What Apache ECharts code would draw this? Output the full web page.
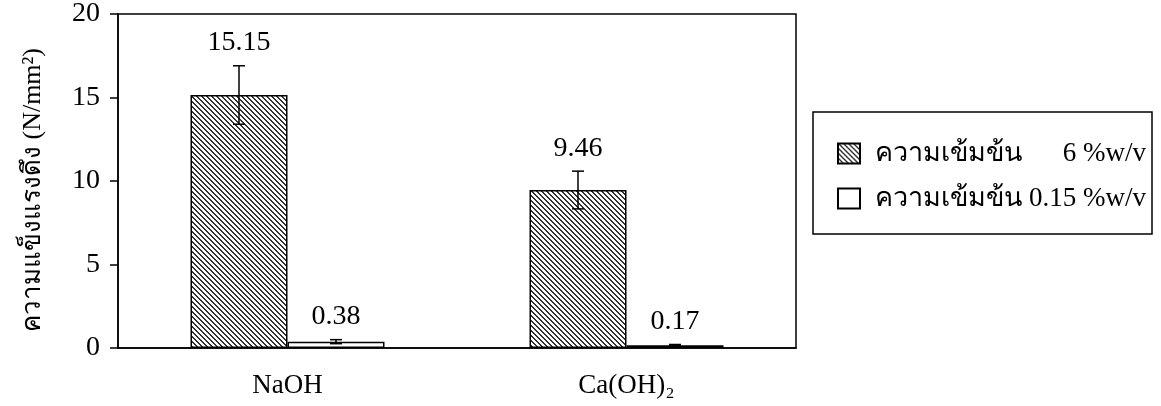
<!DOCTYPE html>
<html>
<head>
<meta charset="utf-8">
<script src="https://cdn.jsdelivr.net/npm/echarts@6/dist/echarts.min.js"></script>
<style>
  html, body { margin: 0; padding: 0; background: #fff; }
  #chart { width: 1161px; height: 406px; }
</style>
</head>
<body>
<div id="chart"></div>
<script>
// data
const categories = ['NaOH', 'Ca(OH)₂'];
const seriesNames = ['6 %w/v', '0.15 %w/v'];
const values6 = [15.15, 9.46];
const values015 = [0.38, 0.17];
const err6 = [1.75, 1.13];
const err015 = [0.12, 0.04];
const yMin = 0, yMax = 20, yStep = 5;

const font = 'Liberation Serif, Noto Sans, serif';
const barW = 97;

// diagonal hatch "\\\\"
function hatch() {
  const n = 5;
  const c = document.createElement('canvas');
  c.width = n; c.height = n;
  const g = c.getContext('2d');
  g.fillStyle = '#fff';
  g.fillRect(0, 0, n, n);
  g.fillStyle = '#333';
  for (let i = 0; i < n; i++) {
    g.fillRect(i, i, 1, 1);
    g.fillRect((i + 1) % n, i, 1, 1);
  }
  return c;
}
const hatchFill = { image: hatch(), repeat: 'repeat' };

function errData(vals, errs) {
  return vals.map((v, i) => [i, v, errs[i]]);
}

function errRender(offset) {
  return function (params, api) {
    const idx = api.value(0), v = api.value(1), e = api.value(2);
    const x = api.coord([idx, 0])[0] + offset;
    const yT = api.coord([idx, v + e])[1];
    const yB = api.coord([idx, v - e])[1];
    const st = { stroke: '#000', lineWidth: 1.5 };
    return {
      type: 'group',
      children: [
        { type: 'line', shape: { x1: x, y1: yT, x2: x, y2: yB }, style: st },
        { type: 'line', shape: { x1: x - 6, y1: yT, x2: x + 6, y2: yT }, style: st },
        { type: 'line', shape: { x1: x - 6, y1: yB, x2: x + 6, y2: yB }, style: st },
        { type: 'text', x: x, y: yT - 9,
          style: { text: v.toFixed(2), fill: '#000', font: '28px ' + font,
                   align: 'center', verticalAlign: 'bottom' } }
      ]
    };
  };
}

const chart = echarts.init(document.getElementById('chart'));
const option = {
  animation: false,
  grid: { left: 118, right: 365, top: 14, bottom: 58, show: true,
          borderColor: '#000', borderWidth: 1.5, backgroundColor: 'transparent' },
  legend: {
    data: seriesNames,
    orient: 'vertical',
    left: 813, top: 112,
    borderColor: '#000', borderWidth: 1.5,
    padding: [28, 6, 22, 24],
    itemGap: 18,
    itemWidth: 22, itemHeight: 20,
    icon: 'rect',
    formatter: (n) => '{a|ความเข้มข้น}{b|' + n + '}',
    textStyle: {
      color: '#000', fontSize: 27, fontFamily: font,
      rich: {
        a: { fontSize: 27, fontFamily: font, color: '#000', padding: [0, 4, 0, 10] },
        b: { fontSize: 27, fontFamily: font, color: '#000', width: 120, align: 'right' }
      }
    }
  },
  xAxis: {
    type: 'category',
    data: categories,
    axisLine: { lineStyle: { color: '#000', width: 1.5 } },
    axisTick: { show: false },
    axisLabel: { color: '#000', fontSize: 27, fontFamily: font, margin: 24 }
  },
  yAxis: {
    type: 'value',
    min: yMin, max: yMax, interval: yStep,
    name: 'ความแข็งแรงดึง (N/mm²)',
    nameLocation: 'middle',
    nameGap: 72,
    nameRotate: 90,
    nameTextStyle: { color: '#000', fontSize: 26, fontFamily: font, padding: [0, 18, 0, 0] },
    axisLine: { show: true, lineStyle: { color: '#000', width: 1.5 } },
    axisTick: { show: true, length: 8, lineStyle: { color: '#000', width: 1.5 } },
    axisLabel: { color: '#000', fontSize: 28, fontFamily: font, margin: 18 },
    splitLine: { show: false }
  },
  series: [
    {
      name: seriesNames[0], type: 'bar', data: values6,
      barWidth: barW, barGap: '0%',
      itemStyle: { color: hatchFill, borderColor: '#000', borderWidth: 1.5 }
    },
    {
      name: seriesNames[1], type: 'bar', data: values015,
      barWidth: barW, barGap: '0%',
      itemStyle: { color: '#fff', borderColor: '#000', borderWidth: 1.5 }
    },
    {
      name: 'err6', type: 'custom', z: 10,
      data: errData(values6, err6),
      encode: { x: 0, y: 1 },
      renderItem: errRender(-barW / 2)
    },
    {
      name: 'err015', type: 'custom', z: 10,
      data: errData(values015, err015),
      encode: { x: 0, y: 1 },
      renderItem: errRender(barW / 2)
    }
  ]
};
chart.setOption(option);
window.addEventListener('resize', () => chart.resize());
</script>
</body>
</html>
